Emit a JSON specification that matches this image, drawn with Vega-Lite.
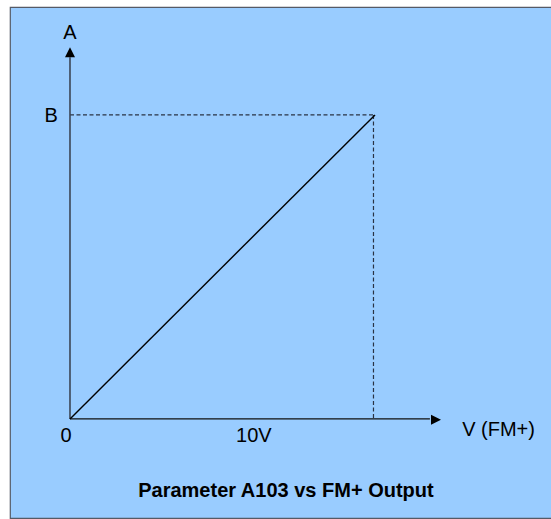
{
  "$schema": "https://vega.github.io/schema/vega-lite/v6.json",
  "width": 542,
  "height": 511,
  "autosize": {"type": "none"},
  "padding": {"left": 10, "top": 7, "right": 0, "bottom": 1},
  "background": "#ffffff",
  "config": {
    "view": {"fill": "#99CCFF", "stroke": "#555a66", "strokeWidth": 1.2},
    "text": {"font": "Liberation Sans", "color": "#000000"}
  },
  "datasets": {
    "lines": [
      {"part": "diagonal", "x": 0, "y": 0, "x2": 100, "y2": 100},
      {"part": "guide", "x": 0, "y": 100, "x2": 100, "y2": 100},
      {"part": "guide", "x": 99.5, "y": 100, "x2": 99.5, "y2": 0},
      {"part": "yaxis", "x": 0, "y": 0, "x2": 0, "y2": 119},
      {"part": "xaxis", "x": 0, "y": 0, "x2": 118, "y2": 0}
    ],
    "arrows": [
      {"dir": "up", "x": 0, "y": 120.6},
      {"dir": "right", "x": 120, "y": -0.3}
    ],
    "labels": [
      {"kind": "label", "text": "A", "x": 0, "y": 125},
      {"kind": "label", "text": "B", "x": -6.2, "y": 97.7},
      {"kind": "label", "text": "0", "x": -1.3, "y": -7.6},
      {"kind": "label", "text": "10V", "x": 60.3, "y": -7.6},
      {"kind": "label", "text": "V (FM+)", "x": 140.5, "y": -5.6},
      {"kind": "title", "text": "Parameter A103 vs FM+ Output", "x": 70.8, "y": -25.7}
    ]
  },
  "encoding": {
    "x": {"field": "x", "type": "quantitative", "axis": null,
          "scale": {"domain": [-19.67, 158.03], "nice": false, "zero": false}},
    "y": {"field": "y", "type": "quantitative", "axis": null,
          "scale": {"domain": [-32.6, 135.5], "nice": false, "zero": false}}
  },
  "layer": [
    {
      "data": {"name": "lines"},
      "transform": [{"filter": "datum.part === 'guide'"}],
      "mark": {"type": "rule", "color": "#2a3344", "strokeWidth": 1.2, "strokeDash": [4, 2.5]},
      "encoding": {"x2": {"field": "x2"}, "y2": {"field": "y2"}}
    },
    {
      "data": {"name": "lines"},
      "transform": [{"filter": "datum.part === 'yaxis'"}],
      "mark": {"type": "rule", "color": "#3c4656", "strokeWidth": 1.6},
      "encoding": {"x2": {"field": "x2"}, "y2": {"field": "y2"}}
    },
    {
      "data": {"name": "lines"},
      "transform": [{"filter": "datum.part === 'xaxis'"}],
      "mark": {"type": "rule", "color": "#111111", "strokeWidth": 1.4},
      "encoding": {"x2": {"field": "x2"}, "y2": {"field": "y2"}}
    },
    {
      "data": {"name": "lines"},
      "transform": [{"filter": "datum.part === 'diagonal'"}],
      "mark": {"type": "rule", "color": "#000000", "strokeWidth": 1.4},
      "encoding": {"x2": {"field": "x2"}, "y2": {"field": "y2"}}
    },
    {
      "data": {"name": "arrows"},
      "mark": {"type": "point", "filled": true, "color": "#000000", "opacity": 1, "size": 100, "strokeWidth": 0},
      "encoding": {
        "shape": {"field": "dir", "type": "nominal", "legend": null,
                  "scale": {"domain": ["up", "right"], "range": ["M0,-1L1,1L-1,1Z", "M1,0L-1,-1L-1,1Z"]}}
      }
    },
    {
      "data": {"name": "labels"},
      "transform": [{"filter": "datum.kind === 'label'"}],
      "mark": {"type": "text", "fontSize": 20, "align": "center", "baseline": "alphabetic"},
      "encoding": {"text": {"field": "text"}}
    },
    {
      "data": {"name": "labels"},
      "transform": [{"filter": "datum.kind === 'title'"}],
      "mark": {"type": "text", "fontSize": 20, "fontWeight": "bold", "align": "center", "baseline": "alphabetic"},
      "encoding": {"text": {"field": "text"}}
    }
  ]
}
